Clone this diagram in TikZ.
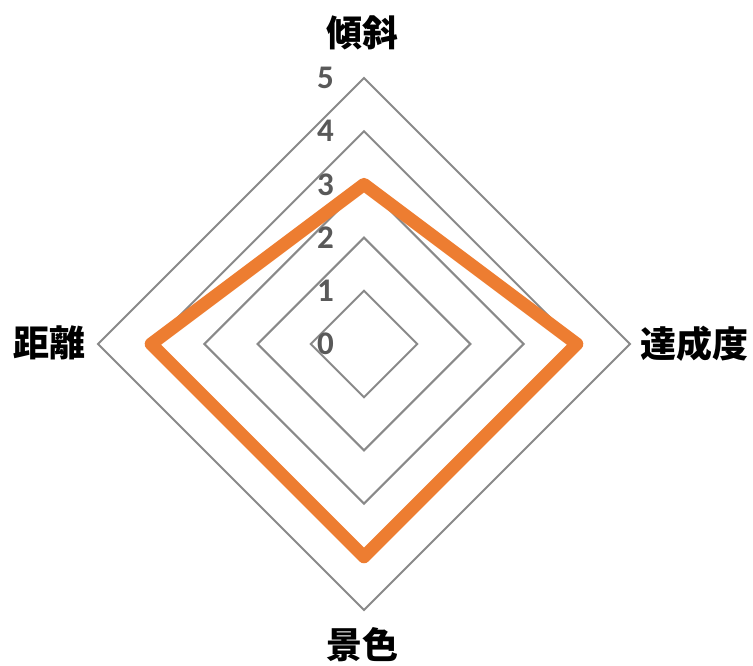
\documentclass[tikz,border=0pt]{standalone}
\usepackage{fontspec}
\setmainfont{Carlito}[BoldFont=Carlito Bold]
\newfontfamily\cjk{Noto Sans CJK JP}
\definecolor{gridgray}{HTML}{898989}
\definecolor{numgray}{HTML}{595959}
\definecolor{dataorange}{HTML}{ED7D31}
\begin{document}
\begin{tikzpicture}[x=1pt,y=1pt,
  grid/.style={draw=gridgray,line width=2pt},
  data/.style={draw=dataorange,line width=13pt,line join=round},
  num/.style={anchor=east,text=numgray,font=\fontsize{33}{33}\selectfont\bfseries,inner sep=0pt},
  axlabel/.style={font=\cjk\fontsize{36}{36}\selectfont\bfseries,inner sep=0pt}]
\useasboundingbox (0,0) rectangle (753,666);
\def\R{53.2}
\coordinate (c) at (364,322);
\foreach \k in {1,...,5}{
  \draw[grid] ([yshift=\k*\R]c) -- ([xshift=\k*\R]c) -- ([yshift=-\k*\R]c) -- ([xshift=-\k*\R]c) -- cycle;
}
\foreach \k in {0,...,5}{
  \node[num] (n\k) at ([xshift=-30,yshift=\k*\R]c) {\k};
}
\coordinate (dtop) at ([yshift=3*\R]c);
\coordinate (dright) at ([xshift=4*\R]c);
\coordinate (dbottom) at ([yshift=-4*\R]c);
\coordinate (dleft) at ([xshift=-4*\R]c);
\draw[data] (dtop) -- (dright) -- (dbottom) -- (dleft) -- cycle;
\node[axlabel] (ltop) at (362,633) {傾斜};
\node[axlabel] (lright) at (694,322) {達成度};
\node[axlabel] (lbottom) at (362,21) {景色};
\node[axlabel] (lleft) at (49,323) {距離};
\end{tikzpicture}
\end{document}
